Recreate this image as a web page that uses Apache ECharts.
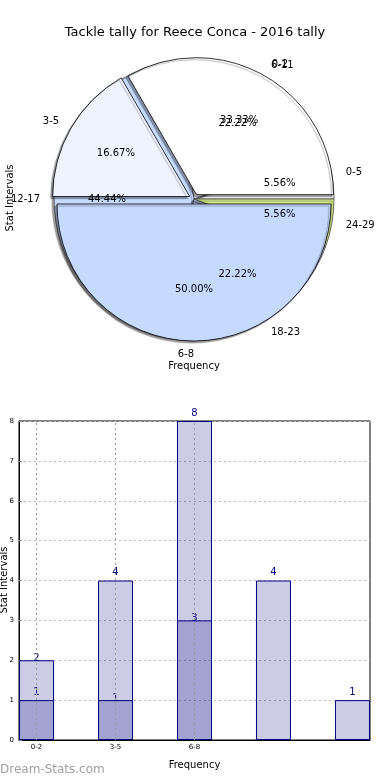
<!DOCTYPE html>
<html><head><meta charset="utf-8">
<script src="https://cdn.jsdelivr.net/npm/echarts@6/dist/echarts.min.js"></script>
<style>html,body{margin:0;padding:0;background:#fff}#c{width:390px;height:780px}</style>
</head><body><div id="c"></div>
<script>
const titleText = 'Tackle tally for Reece Conca - 2016 tally';
const pie1Names = ['0-2', '3-5', '6-8'];
const pie1Values = [2, 1, 3];
const pie2Names = ['0-5', '6-11', '12-17', '18-23', '24-29'];
const pie2Values = [1, 4, 8, 4, 1];
const barTickLabels = ['0-2', '3-5', '6-8'];
const barLight = [2, 4, 8, 4, 1];
const barDark = [1, 1, 3];

// styling (label gaps above bars, as drawn in the reference)
const lightLabelGap = [-3, 3, 3, 3, 3];
const darkLabelGap = [3, -3, -3];
const pie1Colors = ['#ffffff', '#eef3ff', '#c6d9ff'];
const pie2Colors = ['#ffffff', '#eef3ff', '#c6d9ff', '#c6d9ff', '#d2ea88'];
const FONT = 'DejaVu Sans';
const CX = 194, CY = 199, R2 = 140, R1 = 137, OFF = 5;

function baseItems(names, values, sel, colors) {
  return names.map((n, i) => {
    const d = { name: n, value: values[i], selected: sel };
    if (colors) d.itemStyle = { color: colors[i] };
    return d;
  });
}
function common(r, sel, z) {
  return {
    type: 'pie', center: [CX, CY], radius: [0, r], startAngle: 0, clockwise: false,
    selectedMode: 'multiple', selectedOffset: sel ? OFF : 0, avoidLabelOverlap: false,
    silent: true, z: z, animation: false, emphasis: { disabled: true }
  };
}
function visiblePie(names, values, colors, r, sel, z, edge) {
  return Object.assign(common(r, sel, z), {
    data: baseItems(names, values, sel, colors),
    itemStyle: { borderColor: edge, borderWidth: 0.8, shadowColor: 'rgba(0,0,0,0.35)', shadowBlur: 1, shadowOffsetX: -2, shadowOffsetY: 2 },
    label: { show: false }, labelLine: { show: false }
  });
}
function namePie(names, values, r, sel, z) {
  return Object.assign(common(r, sel, z), {
    data: baseItems(names, values, sel),
    itemStyle: { color: 'rgba(0,0,0,0)', borderWidth: 0 },
    label: { show: true, position: 'outside', formatter: '{b}', fontFamily: FONT, fontSize: 10, color: '#000', distanceToLabelLine: 0 },
    labelLine: { show: false, length: r * 0.1, length2: 0 },
    labelLayout: { hideOverlap: false }
  });
}
function pctPie(names, values, r, sel, z) {
  return Object.assign(common(r * 1.2, sel, z), {
    data: baseItems(names, values, sel),
    itemStyle: { color: 'rgba(0,0,0,0)', borderWidth: 0 },
    label: { show: true, position: 'inside', formatter: p => p.percent.toFixed(2) + '%', fontFamily: FONT, fontSize: 10, color: '#000' },
    labelLine: { show: false },
    labelLayout: { hideOverlap: false }
  });
}
function barItems(values, gaps) {
  return values.map((v, i) => ({ value: [i, v], label: { distance: gaps[i] } }));
}

const chart = echarts.init(document.getElementById('c'), null, { renderer: 'canvas' });
const navyFill = 'rgba(0,0,128,0.2)';
const vText = (txt, x, y) => ({ type: 'text', x: x, y: y, rotation: Math.PI / 2, z: 100,
  style: { text: txt, font: '10px "DejaVu Sans"', fill: '#000', align: 'center', verticalAlign: 'middle' } });
const option = {
  animation: false,
  backgroundColor: '#fff',
  textStyle: { fontFamily: FONT },
  title: { text: titleText, left: 'center', top: 21, textStyle: { fontFamily: FONT, fontSize: 13, fontWeight: 'normal', color: '#000' } },
  graphic: [
    vText('Stat Intervals', 10, 198),
    vText('Stat Intervals', 4, 580),
    { type: 'text', x: 194, y: 366, z: 100, style: { text: 'Frequency', font: '10px "DejaVu Sans"', fill: '#000', align: 'center', verticalAlign: 'middle' } },
    { type: 'text', x: 0, y: 770, z: 100, style: { text: 'Dream-Stats.com', font: '12px "DejaVu Sans"', fill: '#a0a0a0', align: 'left', verticalAlign: 'middle' } }
  ],
  grid: { left: 19, right: 20, top: 421, bottom: 40, containLabel: false, outerBoundsMode: 'none', show: true, borderColor: '#000', borderWidth: 1, backgroundColor: 'transparent' },
  xAxis: {
    type: 'value', min: -0.222, max: 4.222,
    name: 'Frequency', nameLocation: 'middle', nameGap: 20,
    nameTextStyle: { fontFamily: FONT, fontSize: 10, color: '#000' },
    axisLine: { show: true, onZero: false, lineStyle: { color: '#000' } },
    axisTick: { show: false },
    splitLine: { show: false },
    axisLabel: { fontFamily: FONT, fontSize: 7, color: '#000', margin: 4, showMinLabel: false, showMaxLabel: false,
      formatter: v => (Math.abs(v - Math.round(v)) < 1e-6 && barTickLabels[Math.round(v)] !== undefined) ? barTickLabels[Math.round(v)] : '' }
  },
  yAxis: {
    type: 'value', min: 0, max: 8, interval: 1,
    axisLine: { show: true, onZero: false, lineStyle: { color: '#000' } },
    axisTick: { show: true, inside: true, length: 3, lineStyle: { color: '#888' } },
    splitLine: { show: true, lineStyle: { color: '#bbb', type: [2, 3], width: 1 } },
    axisLabel: { fontFamily: FONT, fontSize: 7, color: '#000', margin: 5 }
  },
  series: [
    visiblePie(pie2Names, pie2Values, pie2Colors, R2, false, 2, '#444'),
    visiblePie(pie1Names, pie1Values, pie1Colors, R1, true, 3, '#000'),
    namePie(pie2Names, pie2Values, R2, false, 10),
    pctPie(pie2Names, pie2Values, R2, false, 11),
    namePie(pie1Names, pie1Values, R1, true, 12),
    pctPie(pie1Names, pie1Values, R1, true, 13),
    {
      type: 'bar', barWidth: 35, barGap: '-100%', z: 6,
      data: barItems(barLight, lightLabelGap),
      itemStyle: { color: navyFill, borderColor: '#000080', borderWidth: 1 },
      label: { show: true, position: 'top', color: '#000080', fontFamily: FONT, fontSize: 10, formatter: p => p.value[1] },
      markLine: {
        silent: true, symbol: 'none', z: 8,
        label: { show: false },
        lineStyle: { color: '#999', type: [2, 3], width: 1 },
        data: barTickLabels.map((_, i) => ({ xAxis: i }))
      }
    },
    {
      type: 'bar', barWidth: 35, barGap: '-100%', z: 7,
      data: barItems(barDark, darkLabelGap),
      itemStyle: { color: navyFill, borderColor: '#000080', borderWidth: 1 },
      label: { show: true, position: 'top', color: '#000080', fontFamily: FONT, fontSize: 10, formatter: p => p.value[1] }
    }
  ]
};
chart.setOption(option);
</script>
</body></html>
